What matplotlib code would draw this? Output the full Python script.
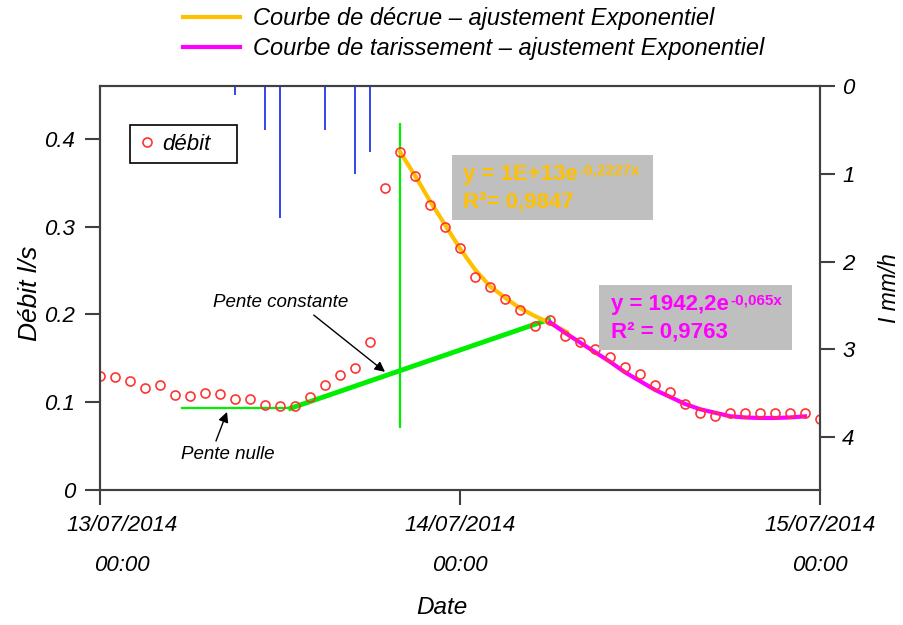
import matplotlib
matplotlib.use("Agg")
import matplotlib.pyplot as plt
from matplotlib.patches import Rectangle
from matplotlib.lines import Line2D
from matplotlib.transforms import ScaledTranslation

plt.rcParams['font.family'] = ['Liberation Sans', 'DejaVu Sans']

# ---------------- data ----------------
hours = list(range(49))  # hourly, from 13/07/2014 00:00 to 15/07/2014 00:00
debit = [0.130, 0.129, 0.124, 0.116, 0.120, 0.108, 0.107, 0.111, 0.109, 0.104,
         0.104, 0.097, 0.096, 0.096, 0.106, 0.120, 0.131, 0.139, 0.168, 0.344,
         0.385, 0.358, 0.325, 0.299, 0.276, 0.242, 0.231, 0.218, 0.205, 0.187,
         0.194, 0.175, 0.168, 0.161, 0.152, 0.140, 0.132, 0.119, 0.112, 0.098,
         0.088, 0.084, 0.088, 0.088, 0.088, 0.088, 0.088, 0.088, 0.081]

rain_hours = [9, 11, 12, 15, 17, 18]
rain_mmh = [0.1, 0.5, 1.5, 0.5, 1.0, 0.75]

decrue_h = [20, 21, 22, 23, 24, 25, 26, 27, 28, 29, 30, 31.1]
decrue_q = [0.385, 0.358, 0.329, 0.302, 0.275, 0.251, 0.232, 0.219, 0.207, 0.198, 0.190, 0.180]

tariss_h = [30, 31, 32, 33, 34, 35, 36, 37, 38, 39, 40, 41, 42, 43, 44, 45, 46, 47]
tariss_q = [0.191, 0.179, 0.168, 0.157, 0.146, 0.134, 0.124, 0.114, 0.106, 0.098,
            0.092, 0.088, 0.084, 0.0826, 0.082, 0.082, 0.0826, 0.0838]

pente_nulle_h = [5.5, 12.7]
pente_nulle_q = [0.093, 0.093]
pente_const_h = [12.7, 29.9]
pente_const_q = [0.093, 0.194]
crue_h = [20, 20]
crue_q = [0.072, 0.417]

xtick_pos = [0, 24, 48]
xtick_labels = ["13/07/2014\n00:00", "14/07/2014\n00:00", "15/07/2014\n00:00"]
yticks_left = [0, 0.1, 0.2, 0.3, 0.4]
yticks_left_labels = ["0", "0.1", "0.2", "0.3", "0.4"]
yticks_right = [0, 1, 2, 3, 4]

# ---------------- figure ----------------
W, H = 904, 625
fig = plt.figure(figsize=(W / 100, H / 100), dpi=100)
ax = fig.add_axes([100 / W, 1 - 490 / H, 720 / W, 404 / H])

spine_c = '#404040'
FS = 16

ax.plot(hours, debit, linestyle='none', marker='o', markersize=6.5,
        markerfacecolor='none', markeredgecolor='#FF3333', markeredgewidth=1.2,
        label='débit', zorder=5)

ax.plot(pente_nulle_h, pente_nulle_q, color='#00EE00', lw=1.6, zorder=3)
ax.plot(pente_const_h, pente_const_q, color='#00EE00', lw=3.5, zorder=3)
ax.plot(crue_h, crue_q, color='#00EE00', lw=1.6, zorder=3)
ax.plot(decrue_h, decrue_q, color='#FFC000', lw=3, zorder=4)
ax.plot(tariss_h, tariss_q, color='#FF00FF', lw=3, zorder=4)

ax.set_xlim(0, 48)
ax.set_ylim(0, 0.46)

ax.set_xticks(xtick_pos)
ax.set_xticklabels(xtick_labels, fontsize=FS, style='italic', linespacing=2.2)
ax.set_yticks(yticks_left)
ax.set_yticklabels(yticks_left_labels, fontsize=FS, style='italic')
ax.tick_params(axis='both', direction='out', length=11, width=1.5, color=spine_c, pad=7)
lbls = ax.get_xticklabels()
lbls[0].set_transform(lbls[0].get_transform() + ScaledTranslation(0.22, 0, fig.dpi_scale_trans))

for s in ax.spines.values():
    s.set_color(spine_c)
    s.set_linewidth(1.5)

ax.set_ylabel('Débit l/s', fontsize=19, style='italic', va='center')
ax.yaxis.set_label_coords(-0.097, 0.488)
ax.set_xlabel('Date', fontsize=17.5, style='italic', va='center')
ax.xaxis.set_label_coords(0.475, -0.292)

# rain on inverted secondary axis
ax2 = ax.twinx()
ax2.vlines(rain_hours, 0, rain_mmh, color='#3344EE', lw=1.4)
ax2.set_ylim(4.6, 0)
ax2.set_yticks(yticks_right)
ax2.set_yticklabels([str(v) for v in yticks_right], fontsize=FS, style='italic')
ax2.tick_params(axis='y', direction='out', length=11, width=1.5, color=spine_c, pad=5)
for s in ax2.spines.values():
    s.set_color(spine_c)
    s.set_linewidth(1.5)
ax2.set_ylabel('I mm/h', fontsize=16.5, style='italic', va='center')
ax2.yaxis.set_label_coords(1.097, 0.5)

# débit legend (frame drawn separately)
ax.add_patch(Rectangle((0.0417, 0.809), 0.190 - 0.0417, 0.903 - 0.809,
                       transform=ax.transAxes, facecolor='white', edgecolor='black',
                       lw=1.2, zorder=8))
leg = ax.legend(loc='center left', bbox_to_anchor=(0.056, 0.856), frameon=False,
                prop={'style': 'italic', 'size': FS},
                handlelength=0.6, handletextpad=0.37, borderpad=0, borderaxespad=0)
leg.set_zorder(9)

# fit boxes
ax.add_patch(Rectangle((23.47, 0.3077), 36.87 - 23.47, 0.3818 - 0.3077,
                       facecolor='#BFBFBF', edgecolor='none', zorder=6))
ax.add_patch(Rectangle((33.27, 0.1595), 46.13 - 33.27, 0.2336 - 0.1595,
                       facecolor='#BFBFBF', edgecolor='none', zorder=6))

def eq(x, y, main, sup, color):
    t = ax.text(x, y, main, fontsize=16, fontweight='bold', color=color,
                ha='left', va='center', zorder=7)
    ax.annotate(sup, xy=(1.0, 0.5), xycoords=t, xytext=(1, 0), textcoords='offset points',
                fontsize=11, fontweight='bold', color=color, ha='left', va='baseline', zorder=7)

eq(24.2, 0.359, 'y = 1E+13e', '-0,2227x', '#FFC000')
ax.text(24.2, 0.328, 'R²= 0,9847', fontsize=16, fontweight='bold', color='#FFC000',
        ha='left', va='center', zorder=7)
eq(34.07, 0.211, 'y = 1942,2e', '-0,065x', '#FF00FF')
ax.text(34.07, 0.180, 'R² = 0,9763', fontsize=16, fontweight='bold', color='#FF00FF',
        ha='left', va='center', zorder=7)

# annotations
ax.annotate('Pente constante', xy=(19.0, 0.1345), xytext=(12.07, 0.214),
            fontsize=13.5, style='italic', ha='center', va='center',
            arrowprops=dict(arrowstyle='-|>', color='black', lw=1, relpos=(0.7, 0),
                            shrinkA=2, shrinkB=0, mutation_scale=15))
ax.annotate('Pente nulle', xy=(8.47, 0.0889), xytext=(8.53, 0.040),
            fontsize=13.5, style='italic', ha='center', va='center',
            arrowprops=dict(arrowstyle='-|>', color='black', lw=1, relpos=(0.35, 1),
                            shrinkA=2, shrinkB=0, mutation_scale=15))

# top legend
h1 = Line2D([], [], color='#FFC000', lw=3)
h2 = Line2D([], [], color='#FF00FF', lw=3)
fig.legend([h1, h2], ['Courbe de décrue – ajustement Exponentiel',
                      'Courbe de tarissement – ajustement Exponentiel'],
           loc='upper left', bbox_to_anchor=(183 / W, 1 - 7 / H), frameon=False,
           prop={'style': 'italic', 'size': 17}, handlelength=2.4, handletextpad=0.55,
           labelspacing=0.3, borderpad=0, borderaxespad=0)

fig.savefig('out.png', dpi=100)
